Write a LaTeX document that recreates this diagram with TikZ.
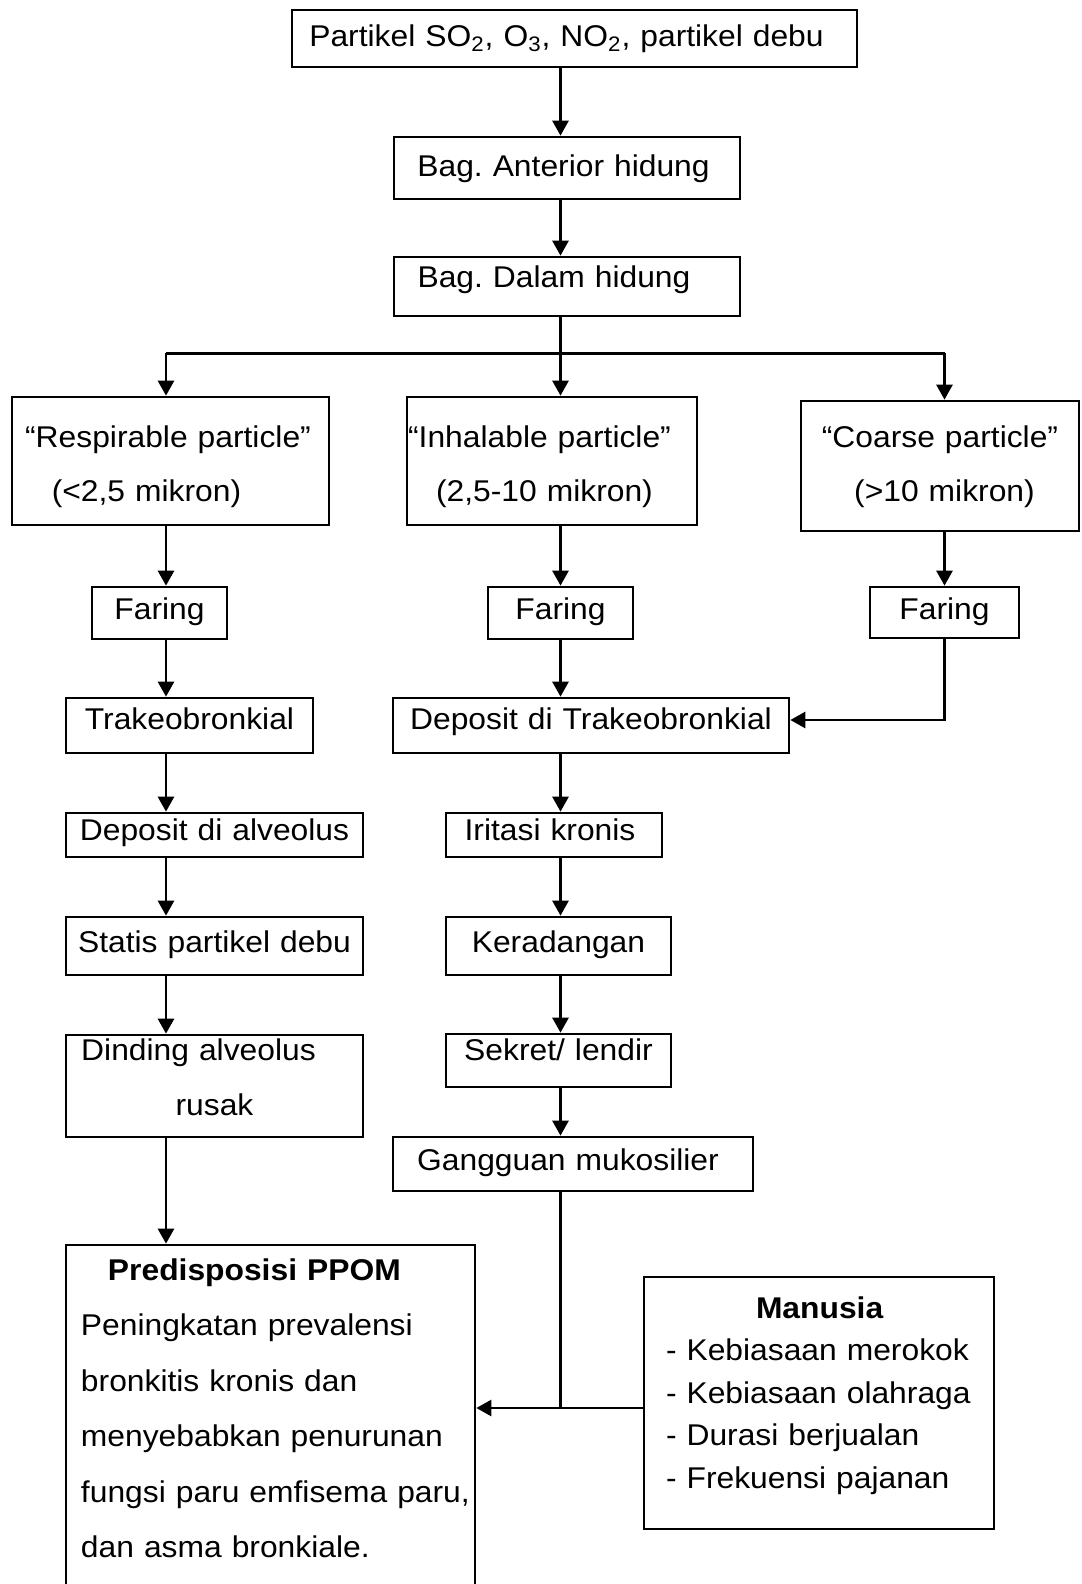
\documentclass[tikz,border=0pt]{standalone}
\usepackage{fontspec}
\setmainfont{Liberation Sans}[FakeStretch=1.06]
\usepackage{tikz}
\usetikzlibrary{arrows.meta, positioning, calc}
\frenchspacing
\tikzstyle{stepbox} = [rectangle, draw=black, line width=1.35pt, inner ysep=0pt, inner xsep=2pt, align=center, font=\fontsize{15pt}{18pt}\selectfont]
\tikzstyle{twoline} = [font=\fontsize{15pt}{27pt}\selectfont]
\tikzstyle{listbox} = [stepbox, align=left]
\tikzstyle{joinline} = [line width=1.35pt]
\tikzstyle{arrow} = [line width=1.35pt, ->, >={Triangle[length=7.5pt,width=8pt]}]

\begin{document}
\begin{tikzpicture}[node distance=56pt]
    \useasboundingbox (-287.25pt,19.25pt) rectangle (253.25pt,-772.75pt);
    \node (src) [stepbox, text width=278.5pt, text height=18.5pt, text depth=10pt] {\hspace*{-8pt}Partikel SO\textsubscript{2}, O\textsubscript{3}, NO\textsubscript{2}, partikel debu};
    \node (anterior) [stepbox, below of=src, xshift=-3.75pt, yshift=-8.75pt, text width=169pt, text height=20pt, text depth=11pt] {\hspace*{-3.5pt}Bag. Anterior hidung};
    \node (dalam) [stepbox, below of=anterior, yshift=-3.25pt, text width=169pt, text height=15pt, text depth=14.5pt] {\hspace*{-13pt}Bag. Dalam hidung};

    % three particle sizes
    \node (inhalable) [stepbox, twoline, below of=dalam, xshift=-7.5pt, yshift=-31.25pt, text width=141pt, text height=25pt, text depth=39pt] {\hspace*{-12.5pt}“Inhalable particle”\\\hspace*{-7.5pt}(2,5-10 mikron)};
    \node (respirable) [stepbox, twoline, left of=inhalable, xshift=-134.75pt, text width=154.5pt, text height=25pt, text depth=39pt] {\hspace*{-2.5pt}“Respirable particle”\\\hspace*{-24pt}(<2,5 mikron)};
    \node (coarse) [stepbox, twoline, right of=inhalable, xshift=138pt, yshift=-2.5pt, text width=135pt, text height=23pt, text depth=42pt] {“Coarse particle”\\\hspace*{4.5pt}(>10 mikron)};

    % left column
    \node (faringL) [stepbox, below of=respirable, xshift=-5.5pt, yshift=-20pt, text width=63.5pt, text height=16pt, text depth=10pt] {Faring};
    \coordinate (leftaxis) at ([xshift=3.25pt]faringL.north);
    \node (trakL) [stepbox, below of=faringL, xshift=15pt, yshift=-0.25pt, text width=119.5pt, text height=15.5pt, text depth=12pt] {Trakeobronkial};
    \node (alveolus) [stepbox, below of=trakL, xshift=12.5pt, yshift=1.25pt, text width=144.5pt, text height=13.5pt, text depth=8.5pt] {Deposit di alveolus};
    \node (statis) [stepbox, below of=alveolus, yshift=0.5pt, text width=144.5pt, text height=17.5pt, text depth=11.5pt] {Statis partikel debu};
    \node (dinding) [stepbox, below of=statis, yshift=-14pt, text width=144.5pt, text height=12.5pt, text depth=38.5pt, font=\fontsize{15pt}{27.5pt}\selectfont] {\hspace*{-16pt}Dinding alveolus\\rusak};

    % middle column
    \node (faringM) [stepbox, below of=inhalable, xshift=4.25pt, yshift=-20pt, text width=68.5pt, text height=16pt, text depth=10pt] {Faring};
    \node (trakM) [stepbox, below of=faringM, xshift=15.25pt, yshift=-0.25pt, text width=194pt, text height=15.5pt, text depth=12pt] {Deposit di Trakeobronkial};
    \node (iritasi) [stepbox, below of=trakM, xshift=-18.5pt, yshift=1.25pt, text width=104pt, text height=13.5pt, text depth=8.5pt] {\hspace*{-4pt}Iritasi kronis};
    \node (radang) [stepbox, below of=iritasi, xshift=2.25pt, yshift=0.5pt, text width=108.5pt, text height=17.5pt, text depth=11.5pt] {Keradangan};
    \node (sekret) [stepbox, below of=radang, yshift=-1.25pt, text width=108.5pt, text height=13pt, text depth=13.5pt] {Sekret/ lendir};
    \node (gangguan) [stepbox, below of=sekret, xshift=7.25pt, yshift=4.25pt, text width=176pt, text height=16.5pt, text depth=10.5pt] {\hspace*{-5pt}Gangguan mukosilier};

    % right column
    \node (faringR) [stepbox, below of=coarse, xshift=2.25pt, yshift=-17.25pt, text width=70.5pt, text height=16pt, text depth=9.5pt] {Faring};

    % outcome and human factors
    \node (ppom) [listbox, below of=dinding, xshift=28pt, yshift=-112.25pt, text width=202.5pt, inner xsep=1pt, text height=17.5pt, text depth=160pt, font=\fontsize{15pt}{27.75pt}\selectfont] {\leftskip=6.5pt\hspace*{13.5pt}\textbf{Predisposisi PPOM}\\Peningkatan prevalensi\\bronkitis kronis dan\\menyebabkan penurunan\\fungsi paru emfisema paru,\\dan asma bronkiale.\par};
    \node (manusia) [listbox, below of=gangguan, xshift=123pt, yshift=-63.5pt, text width=153pt, inner xsep=11pt, text height=20.5pt, text depth=105.5pt, font=\fontsize{15pt}{21.25pt}\selectfont] {\hspace*{45pt}\textbf{Manusia}\\- Kebiasaan merokok\\- Kebiasaan olahraga\\- Durasi berjualan\\- Frekuensi pajanan};

    \draw [arrow] (src.south -| faringM) -- (anterior.north -| faringM);
    \draw [arrow] (anterior.south -| faringM) -- (dalam.north -| faringM);
    % split into the three branches
    \coordinate (split) at ($(dalam.south)!0.46!(inhalable.north)$);
    \draw [joinline] (dalam.south -| faringM) -- (split -| faringM);
    \draw [joinline] (split -| leftaxis) -- (split -| faringR);
    \draw [arrow] (split -| leftaxis) -- (respirable.north -| leftaxis);
    \draw [arrow] (split -| faringM) -- (inhalable.north -| faringM);
    \draw [arrow] (split -| faringR) -- (coarse.north -| faringR);

    \draw [arrow] (respirable.south -| leftaxis) -- (leftaxis);
    \draw [arrow] (faringL.south -| leftaxis) -- (trakL.north -| leftaxis);
    \draw [arrow] (trakL.south -| leftaxis) -- (alveolus.north -| leftaxis);
    \draw [arrow] (alveolus.south -| leftaxis) -- (statis.north -| leftaxis);
    \draw [arrow] (statis.south -| leftaxis) -- (dinding.north -| leftaxis);
    \draw [arrow] (dinding.south -| leftaxis) -- (ppom.north -| leftaxis);

    \draw [arrow] (inhalable.south -| faringM) -- (faringM.north);
    \draw [arrow] (faringM.south) -- (trakM.north -| faringM);
    \draw [arrow] (trakM.south -| faringM) -- (iritasi.north -| faringM);
    \draw [arrow] (iritasi.south -| faringM) -- (radang.north -| faringM);
    \draw [arrow] (radang.south -| faringM) -- (sekret.north -| faringM);
    \draw [arrow] (sekret.south -| faringM) -- (gangguan.north -| faringM);

    \draw [arrow] (coarse.south -| faringR) -- (faringR.north);
    \draw [arrow] (faringR.south) |- ([yshift=2.75pt]trakM.east);

    % both lead into PPOM
    \draw [joinline] (gangguan.south -| faringM) |- ([yshift=-2.5pt]manusia.west);
    \draw [arrow] ([yshift=-2.5pt]manusia.west) -- ([yshift=-2.5pt]manusia.west -| ppom.east);
\end{tikzpicture}
\end{document}
